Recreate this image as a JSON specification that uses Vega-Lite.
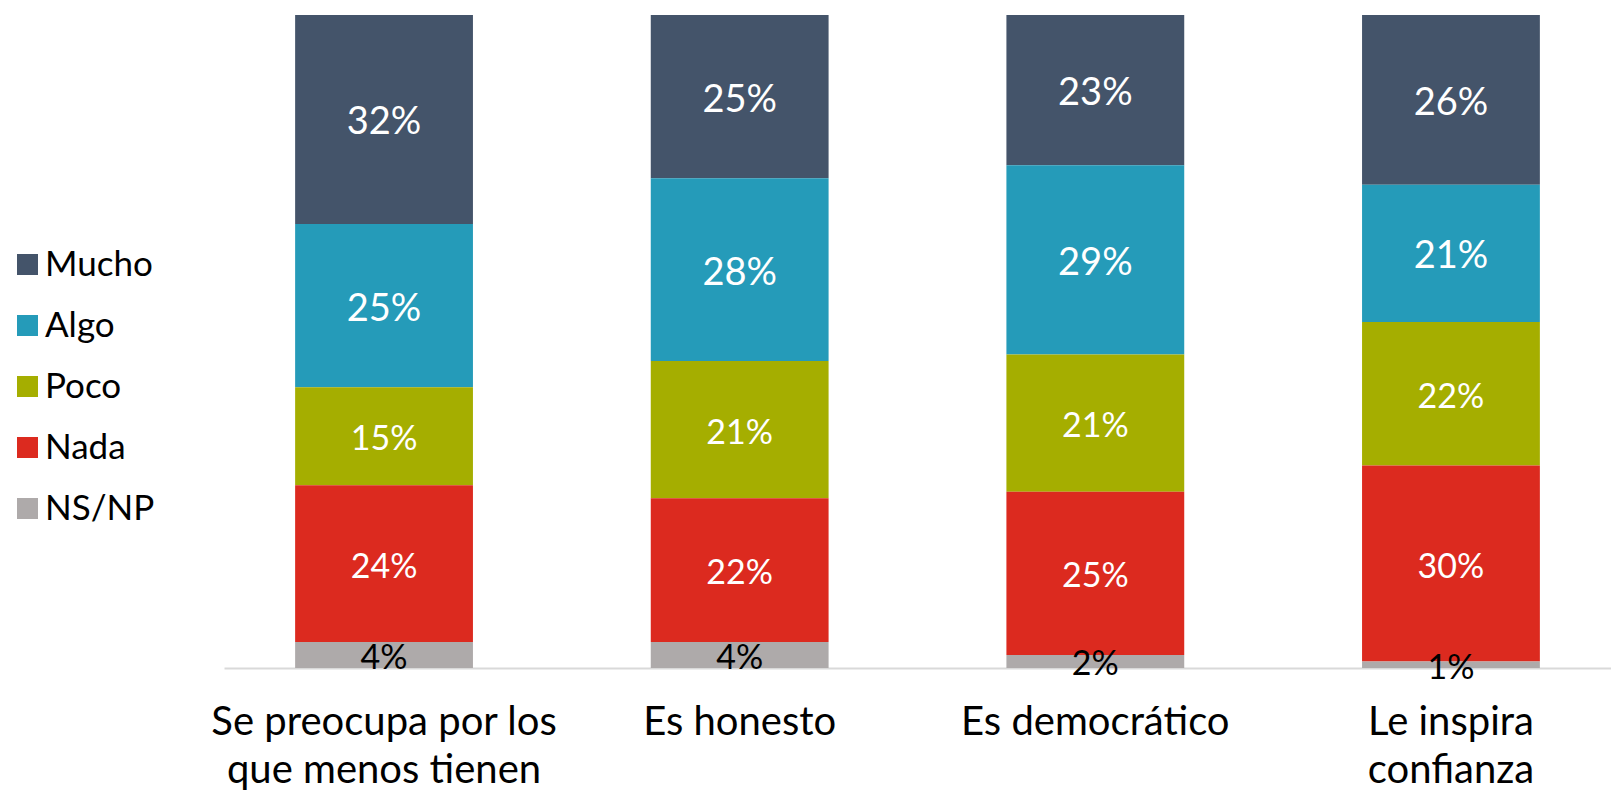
{
  "$schema": "https://vega.github.io/schema/vega-lite/v6.json",
  "autosize": "none",
  "width": 1387,
  "height": 653,
  "padding": {"left": 224, "top": 15, "right": 0, "bottom": 127},
  "background": "white",
  "config": {"view": {"stroke": null}, "font": "Lato"},
  "data": {"values": [
    {"q": "Se preocupa por los|que menos tienen", "r": "Mucho", "ord": 5, "v": 32},
    {"q": "Se preocupa por los|que menos tienen", "r": "Algo", "ord": 4, "v": 25},
    {"q": "Se preocupa por los|que menos tienen", "r": "Poco", "ord": 3, "v": 15},
    {"q": "Se preocupa por los|que menos tienen", "r": "Nada", "ord": 2, "v": 24},
    {"q": "Se preocupa por los|que menos tienen", "r": "NS/NP", "ord": 1, "v": 4},
    {"q": "Es honesto", "r": "Mucho", "ord": 5, "v": 25},
    {"q": "Es honesto", "r": "Algo", "ord": 4, "v": 28},
    {"q": "Es honesto", "r": "Poco", "ord": 3, "v": 21},
    {"q": "Es honesto", "r": "Nada", "ord": 2, "v": 22},
    {"q": "Es honesto", "r": "NS/NP", "ord": 1, "v": 4},
    {"q": "Es democrático", "r": "Mucho", "ord": 5, "v": 23},
    {"q": "Es democrático", "r": "Algo", "ord": 4, "v": 29},
    {"q": "Es democrático", "r": "Poco", "ord": 3, "v": 21},
    {"q": "Es democrático", "r": "Nada", "ord": 2, "v": 25},
    {"q": "Es democrático", "r": "NS/NP", "ord": 1, "v": 2},
    {"q": "Le inspira|confianza", "r": "Mucho", "ord": 5, "v": 26},
    {"q": "Le inspira|confianza", "r": "Algo", "ord": 4, "v": 21},
    {"q": "Le inspira|confianza", "r": "Poco", "ord": 3, "v": 22},
    {"q": "Le inspira|confianza", "r": "Nada", "ord": 2, "v": 30},
    {"q": "Le inspira|confianza", "r": "NS/NP", "ord": 1, "v": 1}
  ]},
  "transform": [
    {"stack": "v", "groupby": ["q"], "sort": [{"field": "ord", "order": "ascending"}], "as": ["y0", "y1"]},
    {"calculate": "(datum.y0 + datum.y1) / 2", "as": "ym"},
    {"calculate": "datum.v + '%'", "as": "lbl"}
  ],
  "encoding": {
    "x": {
      "field": "q", "type": "nominal", "sort": null,
      "scale": {"paddingInner": 0.5, "paddingOuter": 0.2},
      "axis": {
        "title": null, "labelAngle": 0, "ticks": false,
        "domainColor": "#D9D9D9", "domainWidth": 2,
        "labelExpr": "split(datum.value, '|')",
        "labelFontSize": 40, "labelColor": "#000000", "labelLineHeight": 48,
        "labelPadding": 34, "labelBaseline": "top", "labelFont": "Lato",
        "labelLimit": 0
      }
    }
  },
  "layer": [
    {
      "mark": {"type": "bar"},
      "encoding": {
        "y": {"field": "y0", "type": "quantitative", "scale": {"domain": [0, 100]}, "axis": null},
        "y2": {"field": "y1"},
        "color": {
          "field": "r", "type": "nominal",
          "scale": {
            "domain": ["Mucho", "Algo", "Poco", "Nada", "NS/NP"],
            "range": ["#44546A", "#259BB9", "#A5AE00", "#DC2A1F", "#AEAAAA"]
          },
          "legend": {
            "title": null, "orient": "none", "legendX": -214, "legendY": 232,
            "symbolType": "square", "symbolSize": 441, "symbolStrokeWidth": 0,
            "labelFontSize": 35, "labelFont": "Lato", "labelColor": "#000000",
            "rowPadding": 25, "labelOffset": 0
          }
        }
      }
    },
    {
      "mark": {"type": "text", "baseline": "middle", "font": "Lato", "dy": 4},
      "encoding": {
        "y": {"field": "ym", "type": "quantitative"},
        "text": {"field": "lbl"},
        "size": {
          "condition": {"test": "datum.r == 'Mucho' || datum.r == 'Algo'", "value": 38},
          "value": 34
        },
        "color": {
          "condition": {"test": "datum.r == 'NS/NP'", "value": "#000000"},
          "value": "#FFFFFF"
        }
      }
    }
  ]
}
